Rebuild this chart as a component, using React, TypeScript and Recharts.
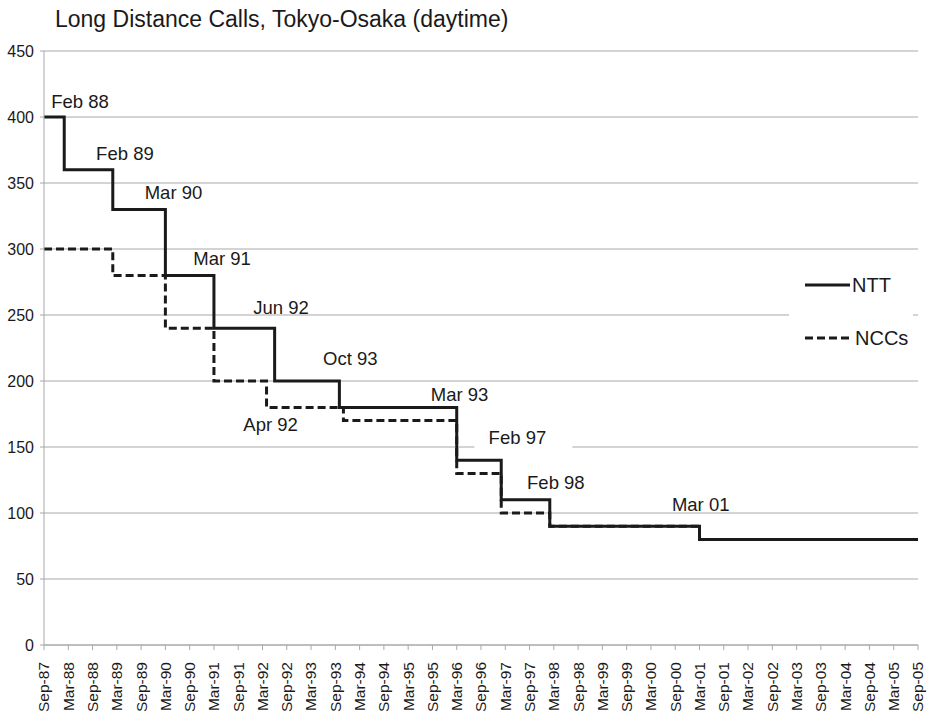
import React from 'react';
import { LineChart, Line, XAxis, YAxis, CartesianGrid, Legend, ReferenceDot } from 'recharts';

// six-monthly tick labels along the bottom axis
const tickLabels = [
  'Sep-87', 'Mar-88', 'Sep-88', 'Mar-89', 'Sep-89', 'Mar-90', 'Sep-90', 'Mar-91', 'Sep-91', 'Mar-92',
  'Sep-92', 'Mar-93', 'Sep-93', 'Mar-94', 'Sep-94', 'Mar-95', 'Sep-95', 'Mar-96', 'Sep-96', 'Mar-97',
  'Sep-97', 'Mar-98', 'Sep-98', 'Mar-99', 'Sep-99', 'Mar-00', 'Sep-00', 'Mar-01', 'Sep-01', 'Mar-02',
  'Sep-02', 'Mar-03', 'Sep-03', 'Mar-04', 'Sep-04', 'Mar-05', 'Sep-05',
];
const yTicks = [0, 50, 100, 150, 200, 250, 300, 350, 400, 450];

// months after Sep-87 at which each tariff starts
const nttMonths = [0, 5, 17, 30, 42, 57, 73, 102, 113, 125, 162, 216];
const nttValues = [400, 360, 330, 280, 240, 200, 180, 140, 110, 90, 80, 80];
const nccMonths = [0, 17, 30, 42, 55, 74, 102, 113, 125, 162, 216];
const nccValues = [300, 280, 240, 200, 180, 170, 130, 100, 90, 80, 80];

// date notes placed in chart units (month, value)
const notes = [
  { text: 'Feb 88', m: 8.9, v: 412 },
  { text: 'Feb 89', m: 20, v: 372 },
  { text: 'Mar 90', m: 32, v: 343 },
  { text: 'Mar 91', m: 44, v: 293 },
  { text: 'Jun 92', m: 58.6, v: 256 },
  { text: 'Oct 93', m: 75.7, v: 217 },
  { text: 'Apr 92', m: 56, v: 167 },
  { text: 'Mar 93', m: 102.7, v: 190 },
  { text: 'Feb 97', m: 117, v: 157, boxed: true },
  { text: 'Feb 98', m: 126.5, v: 123 },
  { text: 'Mar 01', m: 162.3, v: 106.6 },
];

const xTicks = tickLabels.map((_, i) => i * 6);
const nttData = nttMonths.map((m, i) => ({ m, v: nttValues[i] }));
const nccData = nccMonths.map((m, i) => ({ m, v: nccValues[i] }));

const FONT = '"Liberation Sans", Arial, Helvetica, sans-serif';
const INK = '#1a1a1a';
const GRID = '#a8a8a8';

function XTick({ x, y, payload }: any) {
  const ty = y + 10;
  return (
    <text
      x={x}
      y={ty}
      transform={`rotate(-90, ${x}, ${ty})`}
      textAnchor="end"
      dy="0.35em"
      fontSize={15.5}
      fill={INK}
      fontFamily={FONT}
    >
      {tickLabels[Math.round(payload.value / 6)]}
    </text>
  );
}

function NoteLabel({ viewBox, text, boxed }: any) {
  const cx = viewBox.x + (viewBox.width || 0) / 2;
  const cy = viewBox.y + (viewBox.height || 0) / 2;
  return (
    <g>
      {boxed && <rect x={cx - 43} y={cy - 10} width={98} height={23} fill="#fff" />}
      <text x={cx} y={cy} textAnchor="middle" dominantBaseline="central" fontSize={18.5} fill={INK} fontFamily={FONT}>
        {text}
      </text>
    </g>
  );
}

function LegendBox() {
  return (
    <div style={{ background: '#fff', width: 124, height: 86 }}>
      <svg width={124} height={86}>
        <line x1={16} y1={23} x2={61} y2={23} stroke={INK} strokeWidth={3} />
        <text x={63} y={23} dominantBaseline="central" fontSize={20} fill={INK} fontFamily={FONT}>NTT</text>
        <line x1={16} y1={76} x2={61} y2={76} stroke={INK} strokeWidth={3} strokeDasharray="8 4" />
        <text x={66} y={76} dominantBaseline="central" fontSize={20} fill={INK} fontFamily={FONT}>NCCs</text>
      </svg>
    </div>
  );
}

export default function App() {
  return (
    <div style={{ position: 'absolute', left: 0, top: 0, width: 929, height: 715, background: '#fff', fontFamily: FONT }}>
      <div style={{ position: 'absolute', left: 55, top: 5, fontSize: 23, lineHeight: '28px', color: INK, whiteSpace: 'nowrap' }}>
        Long Distance Calls, Tokyo-Osaka (daytime)
      </div>
      <LineChart width={929} height={715} margin={{ top: 51, right: 11, left: 0, bottom: 0 }}>
        <CartesianGrid vertical={false} stroke={GRID} strokeWidth={1} />
        <XAxis
          type="number"
          dataKey="m"
          domain={[0, 216]}
          ticks={xTicks}
          interval={0}
          height={70}
          tickSize={5}
          tick={<XTick />}
          stroke={GRID}
          allowDuplicatedCategory={false}
        />
        <YAxis
          type="number"
          domain={[0, 450]}
          ticks={yTicks}
          width={44}
          tickSize={4}
          tickMargin={6}
          stroke={GRID}
          tick={{ fontSize: 16, fill: INK, fontFamily: FONT }}
        />
        <Line
          data={nccData}
          dataKey="v"
          type="stepAfter"
          stroke={INK}
          strokeWidth={3}
          strokeDasharray="8 4"
          dot={false}
          isAnimationActive={false}
          name="NCCs"
        />
        <Line
          data={nttData}
          dataKey="v"
          type="stepAfter"
          stroke={INK}
          strokeWidth={3}
          dot={false}
          isAnimationActive={false}
          name="NTT"
        />
        {notes.map((n) => (
          <ReferenceDot
            key={n.text}
            x={n.m}
            y={n.v}
            r={0}
            fill="none"
            stroke="none"
            label={(p: any) => <NoteLabel {...p} text={n.text} boxed={n.boxed} />}
          />
        ))}
        <Legend
          layout="vertical"
          align="center"
          verticalAlign="middle"
          content={() => <LegendBox />}
          wrapperStyle={{ left: 789, top: 262, width: 124, height: 86 }}
        />
      </LineChart>
    </div>
  );
}
